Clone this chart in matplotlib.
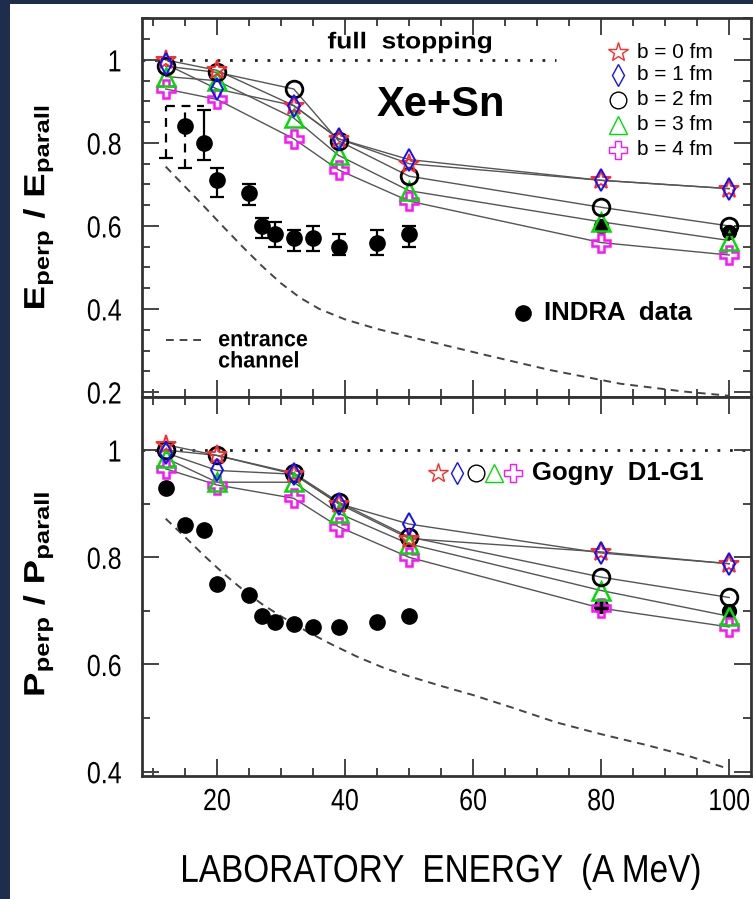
import matplotlib
matplotlib.use("Agg")
import matplotlib.pyplot as plt
from matplotlib import font_manager
from matplotlib.patches import Rectangle
from matplotlib.lines import Line2D
from matplotlib.ticker import MultipleLocator
from matplotlib.patheffects import AbstractPathEffect
from matplotlib.transforms import Affine2D


def pick_font(names):
    for n in names:
        try:
            font_manager.findfont(n, fallback_to_default=False)
            return n
        except Exception:
            pass
    return "DejaVu Sans"


SANS = pick_font(["Liberation Sans", "DejaVu Sans"])

plt.rcParams["font.family"] = [SANS, "DejaVu Sans"]
plt.rcParams["mathtext.fontset"] = "custom"
plt.rcParams["mathtext.rm"] = SANS + ":bold"
plt.rcParams["mathtext.it"] = SANS + ":bold"
plt.rcParams["mathtext.bf"] = SANS + ":bold"


class Stretch(AbstractPathEffect):
    """Scale a text's glyph outline in its own frame (sx along the baseline)."""

    def __init__(self, sx=1.0, sy=1.0, anchor="center", vanchor="center"):
        super().__init__()
        self.sx, self.sy, self.anchor, self.vanchor = sx, sy, anchor, vanchor

    def draw_path(self, renderer, gc, tpath, affine, rgbFace=None):
        ext = tpath.get_extents()
        if self.anchor == "left":
            cx = ext.x0
        elif self.anchor == "right":
            cx = ext.x1
        else:
            cx = 0.5 * (ext.x0 + ext.x1)
        cy = 0.0 if self.vanchor == "baseline" else 0.5 * (ext.y0 + ext.y1)
        pre = Affine2D().translate(-cx, -cy).scale(self.sx, self.sy).translate(cx, cy)
        renderer.draw_path(gc, tpath, pre + affine, rgbFace)


# ---------------- data ----------------
energy_model = [12, 20, 32, 39, 50, 80, 100]
impact_labels = ["b = 0 fm", "b = 1 fm", "b = 2 fm", "b = 3 fm", "b = 4 fm"]

e_ratio_b0 = [1.00, 0.975, 0.89, 0.81, 0.75, 0.71, 0.69]
e_ratio_b1 = [0.99, 0.93, 0.89, 0.81, 0.76, 0.71, 0.69]
e_ratio_b2 = [0.985, 0.97, 0.93, 0.805, 0.72, 0.645, 0.60]
e_ratio_b3 = [0.96, 0.95, 0.86, 0.77, 0.685, 0.61, 0.565]
e_ratio_b4 = [0.93, 0.905, 0.81, 0.735, 0.66, 0.56, 0.53]

p_ratio_b0 = [1.01, 0.99, 0.955, 0.90, 0.835, 0.81, 0.788]
p_ratio_b1 = [0.995, 0.962, 0.955, 0.90, 0.862, 0.808, 0.788]
p_ratio_b2 = [1.00, 0.99, 0.957, 0.903, 0.838, 0.763, 0.725]
p_ratio_b3 = [0.985, 0.94, 0.94, 0.882, 0.825, 0.738, 0.69]
p_ratio_b4 = [0.965, 0.935, 0.91, 0.857, 0.80, 0.705, 0.67]

# INDRA measurements (energy ratio, with asymmetric errors)
indra_e_energy = [15, 18, 20, 25, 27, 29, 32, 35, 39, 45, 50]
indra_e_ratio = [0.84, 0.80, 0.71, 0.68, 0.60, 0.58, 0.57, 0.57, 0.55, 0.56, 0.58]
indra_e_err_lo = [0.10, 0.04, 0.04, 0.03, 0.03, 0.03, 0.03, 0.03, 0.02, 0.03, 0.03]
indra_e_err_hi = [0.05, 0.08, 0.03, 0.02, 0.02, 0.03, 0.02, 0.03, 0.03, 0.03, 0.02]
indra_e_dashed = [True, False, False, False, False, False, False, False, False, False, False]

# bracket for the 12 A MeV estimate
bracket_energy = [12]
bracket_hi = [0.89]
bracket_lo = [0.764]
bracket_top_energy = [12, 18]

indra_p_energy = [12, 15, 18, 20, 25, 27, 29, 32, 35, 39, 45, 50]
indra_p_ratio = [0.93, 0.86, 0.85, 0.75, 0.73, 0.69, 0.68, 0.675, 0.67, 0.67, 0.68, 0.69]

indra_high_energy = [80, 100]
indra_high_e_ratio = [0.60, 0.585]
indra_high_p_ratio = [0.71, 0.70]

# entrance channel curves
entrance_e_energy = [12, 15, 18, 21, 24, 27, 30, 33, 36, 40, 45, 52, 62, 72, 83, 93, 100]
entrance_e_ratio = [0.743, 0.695, 0.647, 0.598, 0.550, 0.504, 0.462, 0.427, 0.400, 0.375,
                    0.352, 0.326, 0.289, 0.253, 0.220, 0.201, 0.191]
entrance_p_energy = [12, 15, 18, 21, 24, 27, 30, 34, 38, 42, 46, 50, 55, 60, 66, 73, 80,
                     87, 94, 100]
entrance_p_ratio = [0.872, 0.838, 0.803, 0.770, 0.740, 0.713, 0.690, 0.662, 0.637, 0.614,
                    0.594, 0.578, 0.560, 0.543, 0.520, 0.492, 0.470, 0.450, 0.428, 0.405]

full_stop_top_range = [8.3, 73]
full_stop_value = 1.0

# ---------------- styles ----------------
styles = [
    dict(marker="*", color="#ff2a2a", ms=15, mew=1.4),
    dict(marker="d", color="#1010ff", ms=11, mew=1.4),
    dict(marker="o", color="#000000", ms=12, mew=2.0),
    dict(marker="^", color="#00dd00", ms=13, mew=1.8),
    dict(marker="P", color="#ff10ff", ms=13, mew=1.8),
]
draw_order = [4, 3, 2, 0, 1]
frame_col = "#333333"
dash_style = (0, (4, 3))

fig = plt.figure(figsize=(7.53, 8.99), dpi=100)
fig.patch.set_facecolor("#1f2d4c")
fig.add_artist(Rectangle((10 / 753, 0), 1, 1 - 4 / 899, transform=fig.transFigure,
                         facecolor="white", edgecolor="none", zorder=-5))

L, R = 142 / 753, 751 / 753
T, M, B = 1 - 18 / 899, 1 - 397 / 899, 1 - 776 / 899
ax1 = fig.add_axes([L, M, R - L, T - M])
ax2 = fig.add_axes([L, B, R - L, M - B], sharex=ax1)


def style_axes(ax, ymaj, ymin):
    for s in ax.spines.values():
        s.set_linewidth(2.0)
        s.set_color(frame_col)
    ax.xaxis.set_major_locator(MultipleLocator(20))
    ax.xaxis.set_minor_locator(MultipleLocator(5))
    ax.yaxis.set_major_locator(MultipleLocator(ymaj))
    ax.yaxis.set_minor_locator(MultipleLocator(ymin))
    ax.tick_params(which="both", direction="in", top=True, right=True, color="#444444",
                   width=1.4, labelsize=22)
    ax.tick_params(axis="y", pad=14.5)
    ax.tick_params(axis="x", pad=8)
    ax.tick_params(which="major", length=12)
    ax.tick_params(which="minor", length=6)


def yfmt(v, pos):
    return "1" if abs(v - 1) < 1e-9 else ("%.1f" % v)


def draw_models(ax, series):
    for s in series:
        ax.plot(energy_model, s, color="#555555", lw=1.0, zorder=2)
    for i in draw_order:
        st = styles[i]
        ax.plot(energy_model, series[i], ls="none", marker=st["marker"], ms=st["ms"],
                mfc="none", mec=st["color"], mew=st["mew"], zorder=5)


# ---------------- top panel ----------------
ax1.plot(full_stop_top_range, [full_stop_value] * 2, ls=(0, (1, 3.5)), color="#222222",
         lw=2.0, zorder=1)
ax1.plot(entrance_e_energy, entrance_e_ratio, ls=dash_style, color="#444444", lw=1.4, zorder=1)

for x, y, lo, hi, dsh in zip(indra_e_energy, indra_e_ratio, indra_e_err_lo,
                             indra_e_err_hi, indra_e_dashed):
    eb = ax1.errorbar([x], [y], yerr=[[lo], [hi]], fmt="o", color="black", ms=11,
                      ecolor="black", elinewidth=1.6, capsize=5, capthick=1.6, zorder=3)
    if dsh:
        eb[2][0].set_linestyle((0, (4, 3)))
        eb[1][1].set_visible(False)

bl = ax1.errorbar(bracket_energy, [(h + l) / 2 for h, l in zip(bracket_hi, bracket_lo)],
                  yerr=[[(h - l) / 2 for h, l in zip(bracket_hi, bracket_lo)]] * 2,
                  fmt="none", ecolor="black", elinewidth=1.6, capsize=5, capthick=1.6, zorder=3)
bl[2][0].set_linestyle((0, (4, 3)))
bl[1][1].set_visible(False)
ax1.plot(bracket_top_energy, [bracket_hi[0]] * 2, ls=(0, (4, 3)), color="black", lw=1.6, zorder=3)

ax1.plot(indra_high_energy, indra_high_e_ratio, "o", color="black", ms=10, zorder=4)

draw_models(ax1, [e_ratio_b0, e_ratio_b1, e_ratio_b2, e_ratio_b3, e_ratio_b4])

ax1.set_xlim(8.3, 103.4)
ax1.set_ylim(0.188, 1.101)
style_axes(ax1, 0.2, 0.05)
ax1.yaxis.set_major_formatter(plt.FuncFormatter(yfmt))
ax1.tick_params(labelbottom=False)

ax1.set_ylabel(r"$\mathrm{E_{perp}\ /\ E_{parall}}$", fontsize=21)
ax1.yaxis.set_label_coords(-0.171, 0.5)
ax1.yaxis.label.set_va("center")
ax1.yaxis.label.set_path_effects([Stretch(1.25)])

t = ax1.text(0.44, 0.937, "full  stopping", transform=ax1.transAxes, ha="center",
             va="center", fontsize=16.5, fontweight="bold")
t.set_path_effects([Stretch(1.15)])
ax1.text(0.491, 0.770, "Xe+Sn", transform=ax1.transAxes, ha="center", va="center",
         fontsize=30, fontweight="bold")

leg_y = [0.910, 0.850, 0.784, 0.718, 0.652]
for i, (lab, yy) in enumerate(zip(impact_labels, leg_y)):
    st = styles[i]
    ax1.plot([0.782], [yy], transform=ax1.transAxes, ls="none", marker=st["marker"],
             ms=st["ms"], mfc="none", mec=st["color"], mew=1.0, clip_on=False)
    ax1.text(0.812, yy, lab, transform=ax1.transAxes, ha="left", va="center", fontsize=15)

ax1.plot([0.626], [0.222], transform=ax1.transAxes, marker="o", color="black", ms=11)
ax1.text(0.660, 0.222, "INDRA  data", transform=ax1.transAxes, ha="left", va="center",
         fontsize=18.5, fontweight="bold")

ax1.add_line(Line2D([0.039, 0.100], [0.150, 0.150], transform=ax1.transAxes,
                    ls=dash_style, color="#444444", lw=1.4))
for word, yy in (("entrance", 0.134), ("channel", 0.078)):
    t = ax1.text(0.125, yy, word, transform=ax1.transAxes, ha="left", va="baseline",
                 fontsize=15.5, fontweight="bold")
    t.set_path_effects([Stretch(1.0, 1.05, anchor="left", vanchor="baseline")])

# ---------------- bottom panel ----------------
ax2.axhline(full_stop_value, ls=(0, (1, 3.5)), color="#222222", lw=2.0, zorder=1)
ax2.plot(entrance_p_energy, entrance_p_ratio, ls=dash_style, color="#444444", lw=1.4, zorder=1)
ax2.plot(indra_p_energy, indra_p_ratio, "o", color="black", ms=11, zorder=3)
ax2.plot(indra_high_energy, indra_high_p_ratio, "o", color="black", ms=10, zorder=4)

draw_models(ax2, [p_ratio_b0, p_ratio_b1, p_ratio_b2, p_ratio_b3, p_ratio_b4])

ax2.set_ylim(0.392, 1.099)
style_axes(ax2, 0.2, 0.1)
ax2.yaxis.set_major_formatter(plt.FuncFormatter(yfmt))

ax2.set_ylabel(r"$\mathrm{P_{perp}\ /\ P_{parall}}$", fontsize=21)
ax2.yaxis.set_label_coords(-0.171, 0.48)
ax2.yaxis.label.set_va("center")
ax2.yaxis.label.set_path_effects([Stretch(1.25)])
ax2.set_xlabel("LABORATORY  ENERGY  (A MeV)", fontsize=28)
ax2.xaxis.set_label_coords(0.49, -0.253)
ax2.xaxis.label.set_va("center")
ax2.xaxis.label.set_path_effects([Stretch(0.857)])

gx = [0.486, 0.517, 0.548, 0.578, 0.609]
for i, xx in enumerate(gx):
    st = styles[i]
    ax2.plot([xx], [0.80], transform=ax2.transAxes, ls="none", marker=st["marker"],
             ms=st["ms"], mfc="none", mec=st["color"], mew=1.0, clip_on=False)
ax2.text(0.640, 0.80, "Gogny  D1-G1", transform=ax2.transAxes, ha="left", va="center",
         fontsize=18.5, fontweight="bold")

# narrow tick numerals
fig.canvas.draw()
for ax in (ax1, ax2):
    for tk in ax.xaxis.get_major_ticks():
        tk.label1.set_path_effects([Stretch(0.82)])
    for tk in ax.yaxis.get_major_ticks():
        tk.label1.set_path_effects([Stretch(0.82, anchor="right")])

fig.savefig("out.png", dpi=100, facecolor=fig.get_facecolor())
